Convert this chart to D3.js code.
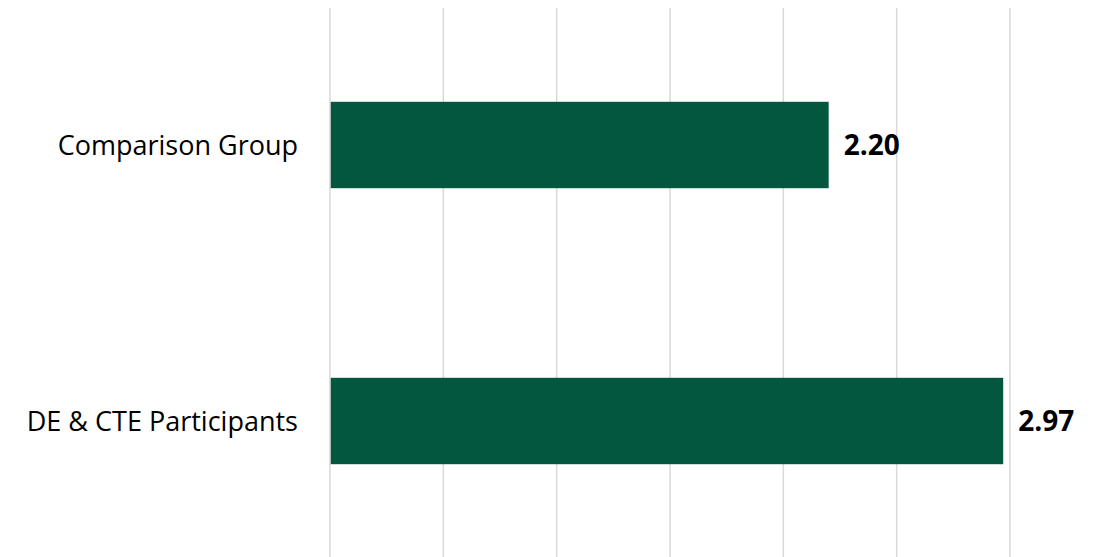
<!DOCTYPE html>
<html>
<head>
<meta charset="utf-8">
<script src="https://cdn.jsdelivr.net/npm/d3@7"></script>
<style>
	body { margin: 0; background: #fff; }
	svg { display: block; }
</style>
</head>
<body>
<svg id="chart"></svg>
<script>
const categories = ['Comparison Group', 'DE & CTE Participants']
const values = [2.20, 2.97]
const tickValues = [0, 0.5, 1, 1.5, 2, 2.5, 3]

const outerWidth = 1107
const outerHeight = 557
const margin = {top: 7, right: 97, bottom: -2, left: 330}
const width = outerWidth - margin.left - margin.right
const height = outerHeight - margin.top - margin.bottom

const svg = d3.select('#chart')
	.attr('width', outerWidth)
	.attr('height', outerHeight)

const g = svg.append('g')
	.attr('transform', `translate(${margin.left},${margin.top})`)

const xScale = d3.scaleLinear()
	.domain([0, 3])
	.range([0, width])

const yScale = d3.scaleBand()
	.domain(categories)
	.range([0, height])
	.paddingInner(0.687)
	.paddingOuter(0.3435)

// vertical gridlines
g.append('g')
	.selectAll('line')
	.data(tickValues)
	.join('line')
	.attr('x1', d => xScale(d))
	.attr('x2', d => xScale(d))
	.attr('y1', 1)
	.attr('y2', height)
	.attr('stroke', '#d9d9d9')
	.attr('stroke-width', 1.5)

// bars
g.append('g')
	.selectAll('rect')
	.data(values)
	.join('rect')
	.attr('x', xScale(0) + 0.75)
	.attr('y', (d, i) => yScale(categories[i]))
	.attr('width', d => xScale(d) - xScale(0) - 0.75)
	.attr('height', yScale.bandwidth())
	.attr('fill', '#03573f')

// value labels
g.append('g')
	.selectAll('text')
	.data(values)
	.join('text')
	.attr('x', d => xScale(d) + 15)
	.attr('y', (d, i) => yScale(categories[i]) + yScale.bandwidth() / 2)
	.attr('dy', '0.36em')
	.attr('font-family', 'Open Sans, sans-serif')
	.attr('font-weight', 'bold')
	.attr('font-size', '28px')
	.attr('fill', '#000')
	.text(d => d.toFixed(2))

// category labels
g.append('g')
	.selectAll('text')
	.data(categories)
	.join('text')
	.attr('x', -32)
	.attr('y', d => yScale(d) + yScale.bandwidth() / 2)
	.attr('dy', '0.36em')
	.attr('text-anchor', 'end')
	.attr('font-family', 'Open Sans, sans-serif')
	.attr('font-size', '27px')
	.attr('fill', '#000')
	.text(d => d)
</script>
</body>
</html>
